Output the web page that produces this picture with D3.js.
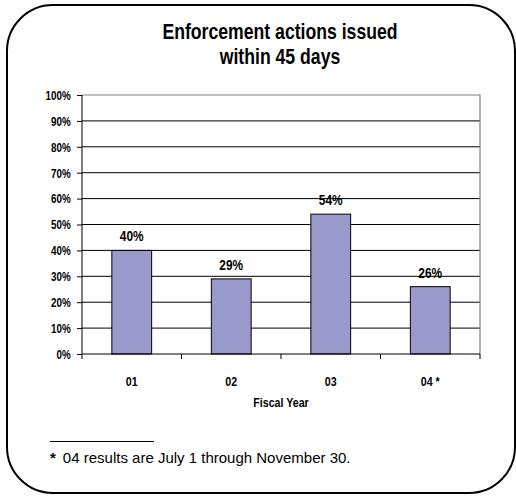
<!DOCTYPE html>
<html>
<head>
<meta charset="utf-8">
<script src="https://cdn.jsdelivr.net/npm/d3@7"></script>
<style>
    body { margin: 0; background: #fff; }
    svg { display: block; }
    .narrow { font-family: "Liberation Sans", Arial, sans-serif; font-weight: bold; }
</style>
</head>
<body>
<div id="chart"></div>
<script>

// data
let years = ["01", "02", "03", "04 *"];
let shares = [0.40, 0.29, 0.54, 0.26];
let yTicks = [0, 0.1, 0.2, 0.3, 0.4, 0.5, 0.6, 0.7, 0.8, 0.9, 1.0];
let titleLines = ["Enforcement actions issued", "within 45 days"];
let footnote = "04 results are July 1 through November 30.";

let width = 516, height = 497;
let margin = {top: 95, right: 36, bottom: 143, left: 82};
let w = width - margin.left - margin.right;
let h = height - margin.top - margin.bottom;
let squeeze = 0.82; // the original font is a condensed Arial

// place condensed text at (px, py)
function narrowText(sel, px, py) {
    return sel.attr("x", 0).attr("y", 0)
        .attr("transform", (d, i) => {
            let xx = typeof px === "function" ? px(d, i) : px;
            let yy = typeof py === "function" ? py(d, i) : py;
            return "translate(" + xx + "," + yy + ") scale(" + squeeze + ",1)";
        });
}

let svg = d3.select("#chart").append("svg")
    .attr("width", width)
    .attr("height", height);

// rounded frame
svg.append("rect")
    .attr("x", 7).attr("y", 5)
    .attr("width", 508).attr("height", 488)
    .attr("rx", 46).attr("ry", 46)
    .attr("fill", "none")
    .attr("stroke", "#000")
    .attr("stroke-width", 2);

// title
svg.selectAll(".title")
    .data(titleLines)
    .join("text")
    .attr("class", "title narrow")
    .attr("text-anchor", "middle")
    .attr("font-size", 21.5)
    .text(d => d)
    .call(narrowText, 280, (d, i) => 38.5 + i * 25);

let g = svg.append("g")
    .attr("transform", "translate(" + margin.left + "," + margin.top + ")");

let x = d3.scaleBand()
    .domain(years)
    .range([0, w])
    .padding(0);

let y = d3.scaleLinear()
    .domain([0, 1])
    .range([h, 0]);

// gridlines
g.append("g")
    .selectAll("line")
    .data(yTicks.filter(d => d > 0 && d < 1))
    .join("line")
    .attr("x1", 0).attr("x2", w)
    .attr("y1", d => y(d)).attr("y2", d => y(d))
    .attr("stroke", "#000")
    .attr("stroke-width", 1);

// plot area border (top + right are grey)
g.append("path")
    .attr("d", "M0," + y(1) + "H" + w + "V" + h)
    .attr("fill", "none")
    .attr("stroke", "#808080")
    .attr("stroke-width", 1.2);

// bars
let barW = x.bandwidth() * 0.4;
g.selectAll(".bar")
    .data(years)
    .join("rect")
    .attr("class", "bar")
    .attr("x", d => x(d) + (x.bandwidth() - barW) / 2)
    .attr("y", (d, i) => y(shares[i]))
    .attr("width", barW)
    .attr("height", (d, i) => h - y(shares[i]))
    .attr("fill", "#9999CC")
    .attr("stroke", "#000")
    .attr("stroke-width", 1);

// bar labels
g.selectAll(".lbl")
    .data(years)
    .join("text")
    .attr("class", "lbl narrow")
    .attr("text-anchor", "middle")
    .attr("font-size", 14.5)
    .text((d, i) => Math.round(shares[i] * 100) + "%")
    .call(narrowText, d => x(d) + x.bandwidth() / 2, (d, i) => y(shares[i]) - 9);

// y axis
let yAxis = d3.axisLeft(y)
    .tickValues(yTicks)
    .tickFormat(d3.format(".0%"))
    .tickSize(5);

let yg = g.append("g").call(yAxis);
yg.select(".domain").attr("stroke", "#000").attr("d", "M0,0V" + (h + 5));
yg.selectAll(".tick line").attr("stroke", "#000");
yg.selectAll("text")
    .attr("class", "narrow")
    .attr("font-size", 12)
    .attr("fill", "#000")
    .attr("dy", null)
    .call(narrowText, -11.3, 4.3);

// x axis: ticks at category boundaries
g.append("line")
    .attr("x1", 0).attr("x2", w)
    .attr("y1", h).attr("y2", h)
    .attr("stroke", "#000");

g.append("g")
    .selectAll("line")
    .data(years)
    .join("line")
    .attr("x1", d => x(d) + x.bandwidth())
    .attr("x2", d => x(d) + x.bandwidth())
    .attr("y1", h).attr("y2", h + 5)
    .attr("stroke", "#000");

g.append("g")
    .selectAll("text")
    .data(years)
    .join("text")
    .attr("class", "narrow")
    .attr("text-anchor", "middle")
    .attr("font-size", 13)
    .text(d => d)
    .call(narrowText, d => x(d) + x.bandwidth() / 2, h + 32);

g.append("text")
    .attr("class", "narrow")
    .attr("text-anchor", "middle")
    .attr("font-size", 13)
    .text("Fiscal Year")
    .call(narrowText, w / 2, h + 53);

// footnote
svg.append("line")
    .attr("x1", 50).attr("x2", 154)
    .attr("y1", 441.5).attr("y2", 441.5)
    .attr("stroke", "#000")
    .attr("stroke-width", 1);

let fn = svg.append("text")
    .attr("x", 50)
    .attr("y", 463)
    .attr("font-family", "Liberation Sans, Arial, sans-serif")
    .attr("font-size", 15);
fn.append("tspan").attr("font-weight", "bold").text("*");
fn.append("tspan").attr("dx", 7).text(footnote);

</script>
</body>
</html>
